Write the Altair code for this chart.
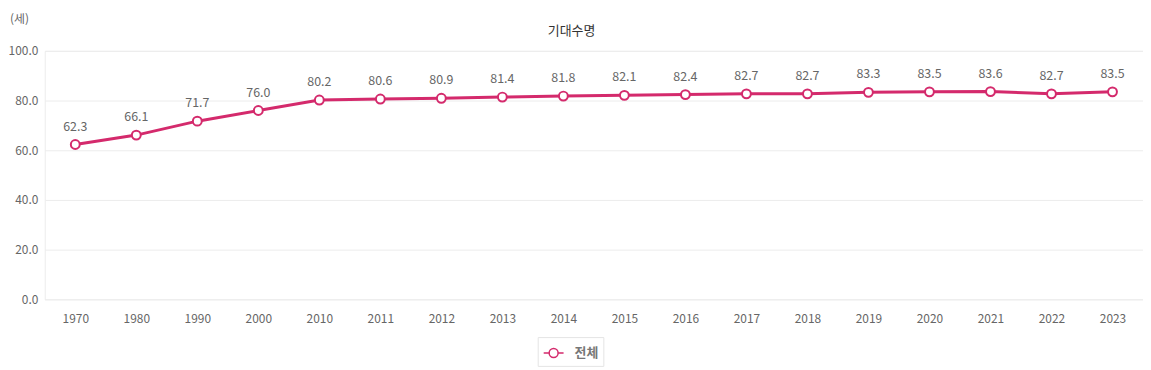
import altair as alt
import pandas as pd

years = ["1970", "1980", "1990", "2000", "2010", "2011", "2012", "2013", "2014",
         "2015", "2016", "2017", "2018", "2019", "2020", "2021", "2022", "2023"]
values = [62.3, 66.1, 71.7, 76.0, 80.2, 80.6, 80.9, 81.4, 81.8,
          82.1, 82.4, 82.7, 82.7, 83.3, 83.5, 83.6, 82.7, 83.5]
series = "전체"
chart_title = "기대수명"
unit_label = "(세)"

df = pd.DataFrame({"year": years, "value": values, "series": series})
df["label"] = df["value"].map(lambda v: f"{v:.1f}")

FONT = "Noto Sans CJK KR"
NUM_FONT = "Noto Sans CJK KR"
COLOR = "#d42a6c"

x = alt.X("year:N", sort=years, scale=alt.Scale(type="point", padding=0.5),
          axis=alt.Axis(title=None, labelAngle=0, grid=False, ticks=False, domain=False,
                        labelPadding=14, labelFontSize=12, labelColor="#666", labelFont=NUM_FONT))
y = alt.Y("value:Q", scale=alt.Scale(domain=[0, 100], nice=False),
          axis=alt.Axis(title=None,
                        values=[0, 20, 40, 60, 80, 100], format=".1f",
                        ticks=False, domain=False, labelPadding=7,
                        labelFontSize=12, labelColor="#666", labelFont=NUM_FONT,
                        grid=True, gridColor="#ececec"))

color = alt.Color("series:N", scale=alt.Scale(domain=[series], range=[COLOR]),
                  legend=alt.Legend(title=None, orient="none", legendX=496, legendY=288,
                                    symbolType="M-1,0H-0.45M0.45,0H1M0.45,0A0.45,0.45 0 1,1 -0.45,0A0.45,0.45 0 1,1 0.45,0Z",
                                    symbolSize=400, symbolStrokeWidth=1.5,
                                    symbolFillColor="white", symbolStrokeColor=COLOR,
                                    labelFont=FONT, labelFontSize=13, labelColor="#777",
                                    labelFontWeight="bold",
                                    labelOffset=10, padding=5,
                                    strokeColor="#e4e4e4", fillColor="white"))

base = alt.Chart(df)
line = base.mark_line(strokeWidth=3).encode(x=x, y=y, color=color)
points = base.mark_point(filled=True, fill="white", size=80, strokeWidth=2, opacity=1).encode(
    x=x, y=y, stroke=alt.value(COLOR))
labels = base.mark_text(dy=-18, font=NUM_FONT, fontSize=12.5, color="#666").encode(
    x=x, y=y, text="label:N")

tdf = pd.DataFrame({"t": [chart_title]})
title_txt = alt.Chart(tdf).mark_text(font=FONT, fontSize=13, color="#333",
                                     align="center", baseline="middle").encode(
    x=alt.value(530), y=alt.value(-20), text="t:N")
udf = pd.DataFrame({"t": [unit_label]})
unit_txt = alt.Chart(udf).mark_text(font=FONT, fontSize=12, color="#666",
                                    align="left", baseline="middle").encode(
    x=alt.value(-35), y=alt.value(-32), text="t:N")

chart = alt.layer(line, points, labels, title_txt, unit_txt).properties(
    width=1105, height=250,
    autosize=alt.AutoSizeParams(type="none"),
    padding={"left": 37, "top": 42, "right": 0, "bottom": 70},
).configure_view(stroke="#ececec")

chart.save("out.html", embed_options={"renderer": "svg", "actions": False})
